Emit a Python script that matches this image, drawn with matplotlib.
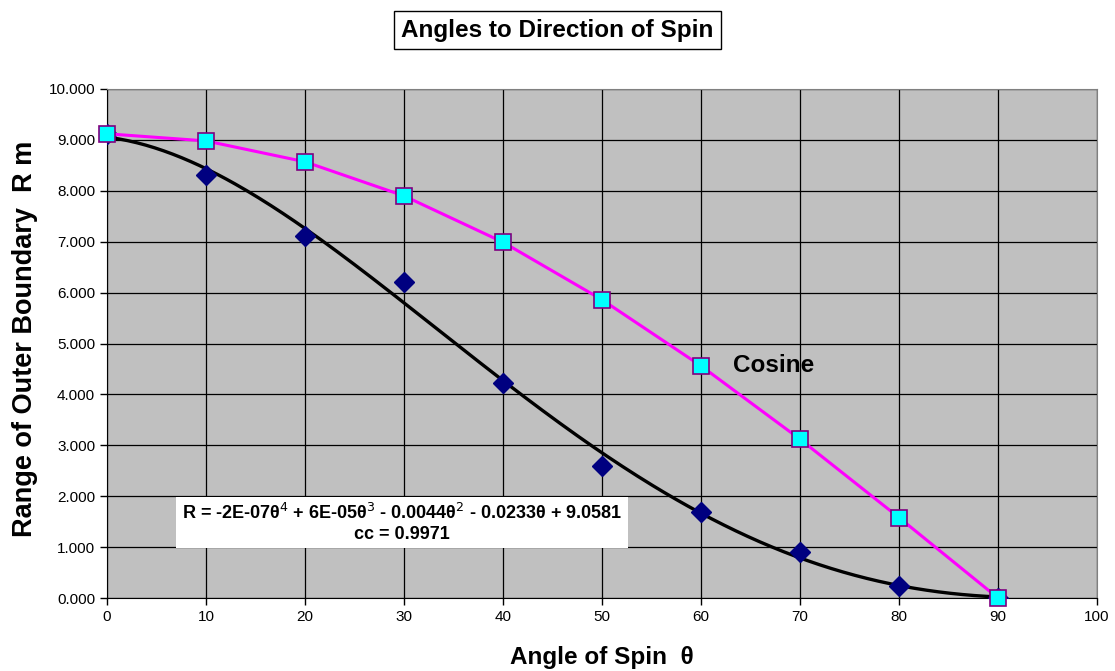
import numpy as np
import matplotlib
matplotlib.use("Agg")
import matplotlib.pyplot as plt
from matplotlib.ticker import FormatStrFormatter, MultipleLocator

plt.rcParams['font.family'] = ['Liberation Sans', 'DejaVu Sans']

angles = [0, 10, 20, 30, 40, 50, 60, 70, 80, 90]
measured = [9.12, 8.31, 7.11, 6.21, 4.22, 2.59, 1.69, 0.90, 0.24, 0.0]
cosine = [9.12, 8.98, 8.57, 7.90, 6.99, 5.86, 4.56, 3.12, 1.58, 0.0]
title = "Angles to Direction of Spin"
xlabel = "Angle of Spin  θ"
ylabel = "Range of Outer Boundary  R m"
eq_text = "R = -2E-07θ$^4$ + 6E-05θ$^3$ - 0.0044θ$^2$ - 0.0233θ + 9.0581\ncc = 0.9971"
cos_label = "Cosine"

fig = plt.figure(figsize=(11.15, 6.71), dpi=100)
ax = fig.add_axes([107/1115, 1-598/671, (1097-107)/1115, (598-89)/671])
ax.set_facecolor('#C0C0C0')
ax.set_xlim(0, 100)
ax.set_ylim(0, 10)
ax.xaxis.set_major_locator(MultipleLocator(10))
ax.yaxis.set_major_locator(MultipleLocator(1))
ax.yaxis.set_major_formatter(FormatStrFormatter('%.3f'))
ax.grid(True, color='black', linewidth=0.9)
ax.set_axisbelow(True)
for s in ['top', 'right']:
    ax.spines[s].set_color('#808080')
for s in ['left', 'bottom']:
    ax.spines[s].set_color('black')
ax.tick_params(direction='out', length=5, width=1, labelsize=11, colors='black')

# polynomial trend (degree 4) fitted to measured data
coef = np.polyfit(angles, measured, 4)
xs = np.linspace(0, 90, 300)
ax.plot(xs, np.polyval(coef, xs), color='black', linewidth=2.4, zorder=3)

ax.plot(angles, measured, linestyle='none', marker='D', markersize=10.5,
        markerfacecolor='#000080', markeredgecolor='#000080', zorder=4)
ax.plot(angles, cosine, color='#FF00FF', linewidth=2.2, marker='s', markersize=11.5,
        markerfacecolor='#00FFFF', markeredgecolor='#800080', markeredgewidth=1.2, zorder=5, clip_on=False)

ax.text(63.2, 4.56, cos_label, fontsize=17.5, fontweight='bold', va='center', ha='left')
ax.text(29.8, 1.48, eq_text, fontsize=13, fontweight='bold', ha='center', va='center',
        linespacing=1.2,
        bbox=dict(facecolor='white', edgecolor='none', boxstyle='square,pad=0.3'), zorder=6)

ax.set_xlabel(xlabel, fontsize=17.5, fontweight='bold', labelpad=16)
ax.set_ylabel(ylabel, fontsize=19.5, fontweight='bold', va='center')
ax.yaxis.set_label_coords((25 - 107) / 990, (598 - 339) / 509)

fig.text(0.5, 1-30/671, title, fontsize=17.5, fontweight='bold', ha='center', va='center',
         bbox=dict(facecolor='white', edgecolor='black', boxstyle='square,pad=0.3', linewidth=1))

fig.savefig('out.png', dpi=100)
